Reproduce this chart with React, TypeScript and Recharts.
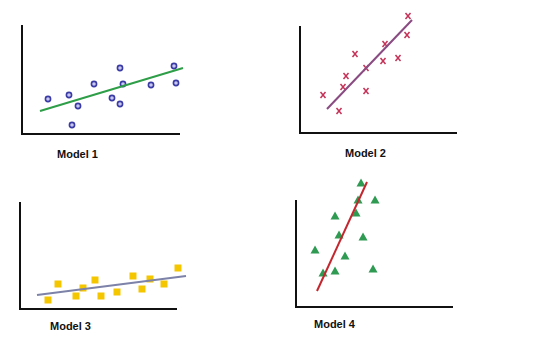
import { ScatterChart, Scatter, XAxis, YAxis, ReferenceLine } from "recharts";

// values (units = pixels from each panel's axis corner)
const model1Points = [
  { x: 26, y: 35 }, { x: 47, y: 39 }, { x: 56, y: 28 }, { x: 50, y: 9 },
  { x: 72, y: 50 }, { x: 90, y: 36 }, { x: 98, y: 66 }, { x: 98, y: 30 },
  { x: 101, y: 50 }, { x: 129, y: 49 }, { x: 152, y: 68 }, { x: 154, y: 51 },
];
const model1Fit = [{ x: 18, y: 23 }, { x: 161, y: 66 }];

const model2Points = [
  { x: 23, y: 38 }, { x: 39, y: 22 }, { x: 43, y: 46 }, { x: 46, y: 57 },
  { x: 55, y: 79 }, { x: 66, y: 65 }, { x: 66, y: 42 }, { x: 83, y: 72 },
  { x: 85, y: 89 }, { x: 98, y: 75 }, { x: 107, y: 98 }, { x: 108, y: 117 },
];
const model2Fit = [{ x: 27, y: 24 }, { x: 112, y: 113 }];

const model3Points = [
  { x: 28, y: 9 }, { x: 38, y: 25 }, { x: 56, y: 13 }, { x: 63, y: 21 },
  { x: 75, y: 29 }, { x: 81, y: 13 }, { x: 97, y: 17 }, { x: 113, y: 33 },
  { x: 122, y: 20 }, { x: 130, y: 30 }, { x: 144, y: 25 }, { x: 158, y: 41 },
];
const model3Fit = [{ x: 17, y: 14 }, { x: 166, y: 33 }];

const model4Points = [
  { x: 65, y: 124 }, { x: 62, y: 107 }, { x: 79, y: 107 }, { x: 60, y: 94 },
  { x: 39, y: 91 }, { x: 43, y: 72 }, { x: 67, y: 70 }, { x: 19, y: 57 },
  { x: 49, y: 51 }, { x: 27, y: 34 }, { x: 39, y: 36 }, { x: 77, y: 38 },
];
const model4Fit = [{ x: 21, y: 16 }, { x: 71, y: 125 }];

const labels = ["Model 1", "Model 2", "Model 3", "Model 4"];

const Ring = (p: any) => (
  <circle cx={p.cx} cy={p.cy} r={2.6} fill="#c8c8ee" stroke="#3b3ba6" strokeWidth={1.6} />
);
const Cross = (p: any) => (
  <g stroke="#c63358" strokeWidth={1.5}>
    <line x1={p.cx - 2.5} y1={p.cy - 3} x2={p.cx + 2.5} y2={p.cy + 3} />
    <line x1={p.cx + 2.5} y1={p.cy - 3} x2={p.cx - 2.5} y2={p.cy + 3} />
  </g>
);
const Square = (p: any) => (
  <rect x={p.cx - 3.5} y={p.cy - 3.5} width={7} height={7} fill="#f4c600" />
);
const Tri = (p: any) => (
  <polygon
    points={`${p.cx},${p.cy - 4.5} ${p.cx + 4.5},${p.cy + 3.5} ${p.cx - 4.5},${p.cy + 3.5}`}
    fill="#2e9a52"
  />
);
const NoDot = () => <g />;

function Panel({ ox, oy, points, fit, shape, lineColor, xLen, yLen }: any) {
  return (
    <div style={{ position: "absolute", left: ox - 30, top: oy - 140 }}>
      <ScatterChart width={210} height={160} margin={{ top: 0, right: 0, bottom: 0, left: 0 }}>
        <XAxis type="number" dataKey="x" domain={[-30, 180]} hide />
        <YAxis type="number" dataKey="y" domain={[-20, 140]} hide />
        <ReferenceLine segment={[{ x: 0, y: -1 }, { x: 0, y: yLen }]} stroke="#111" strokeWidth={2} />
        <ReferenceLine segment={[{ x: -1, y: 0 }, { x: xLen, y: 0 }]} stroke="#111" strokeWidth={2} />
        <Scatter data={points} shape={shape} isAnimationActive={false} />
        <Scatter data={fit} shape={NoDot} line={{ stroke: lineColor, strokeWidth: 2 }} isAnimationActive={false} />
      </ScatterChart>
    </div>
  );
}

const labelStyle = (left: number, top: number): any => ({
  position: "absolute",
  left,
  top,
  fontFamily: "'Liberation Sans', Arial, sans-serif",
  fontWeight: 700,
  fontSize: 11,
  lineHeight: "13px",
  color: "#111",
});

export default function App() {
  return (
    <div style={{ position: "absolute", left: 0, top: 0, width: 540, height: 359, background: "#fff", overflow: "hidden" }}>
      <Panel ox={22} oy={134} points={model1Points} fit={model1Fit} shape={Ring} lineColor="#2e9e48" xLen={158} yLen={109} />
      <Panel ox={300} oy={133} points={model2Points} fit={model2Fit} shape={Cross} lineColor="#8a4a82" xLen={157} yLen={107} />
      <Panel ox={20} oy={309} points={model3Points} fit={model3Fit} shape={Square} lineColor="#7c82a8" xLen={157} yLen={107} />
      <Panel ox={296} oy={307} points={model4Points} fit={model4Fit} shape={Tri} lineColor="#c4262e" xLen={157} yLen={107} />
      <div style={labelStyle(57, 148)}>{labels[0]}</div>
      <div style={labelStyle(345, 147)}>{labels[1]}</div>
      <div style={labelStyle(50, 320)}>{labels[2]}</div>
      <div style={labelStyle(314, 318)}>{labels[3]}</div>
    </div>
  );
}
